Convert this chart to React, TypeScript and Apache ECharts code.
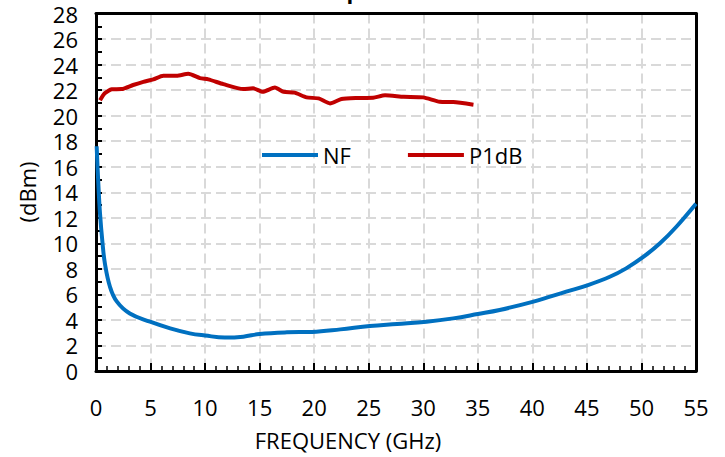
import React, { useEffect, useRef } from "react";
import * as echarts from "echarts";

const nfFreq = [0.06, 0.2, 0.37, 0.6, 0.82, 1.28, 1.9, 3.1, 4.95, 6.8, 8.6, 10, 11.8, 13.5, 15, 17.5, 19.8, 22.4, 25.1, 27.6, 30.3, 32.75, 35, 37, 40.1, 43.1, 45.1, 47.1, 48.6, 50.2, 51.7, 53.2, 55];
const nfValues = [17.6, 14.9, 12.3, 10.0, 8.4, 6.6, 5.45, 4.5, 3.86, 3.34, 2.95, 2.78, 2.62, 2.69, 2.9, 3.03, 3.06, 3.26, 3.52, 3.68, 3.86, 4.12, 4.46, 4.78, 5.43, 6.21, 6.73, 7.38, 8.04, 8.95, 10.0, 11.3, 13.1];

const p1Freq = [0.37, 0.8, 1.44, 2.35, 3.4, 4.34, 5.25, 6.17, 7.4, 8.46, 9.53, 10.3, 11.67, 13.5, 14.4, 15.3, 16.4, 17.2, 18.2, 19.3, 20.4, 21.45, 22.5, 23.9, 25.4, 26.5, 28.2, 30, 31.5, 32.75, 34.6];
const p1Values = [21.2, 21.75, 22.06, 22.08, 22.4, 22.65, 22.84, 23.12, 23.12, 23.28, 22.94, 22.84, 22.47, 22.08, 22.14, 21.87, 22.2, 21.87, 21.8, 21.43, 21.35, 20.96, 21.3, 21.38, 21.4, 21.59, 21.48, 21.43, 21.09, 21.06, 20.86];

const xTicks = { min: 0, max: 55, step: 5 };
const yTicks = { min: 0, max: 28, step: 2 };

const FONT = "'Open Sans', sans-serif";

export default function App() {
  const ref = useRef<HTMLDivElement>(null);
  useEffect(() => {
    if (!ref.current) return;
    const chart = echarts.init(ref.current, null, { renderer: "svg" });
    const gridStyle = { show: true, showMinLine: false, showMaxLine: false, lineStyle: { color: "#d9d9d9", width: 2, type: [10, 5] as any } };
    const frameAxis = {
      axisLine: { show: true, onZero: false, lineStyle: { color: "#000000", width: 3 } },
      axisTick: { show: false },
      axisLabel: { show: false },
      splitLine: { show: false },
    };
    chart.setOption({
      animation: false,
      backgroundColor: "#ffffff",
      title: {
        text: "Output P1dB and NF",
        left: 300,
        top: -26,
        textStyle: { fontFamily: FONT, fontSize: 22, fontWeight: "bold", color: "#000" },
      },
      grid: { left: 96, right: 29, top: 13.5, bottom: 86 },
      legend: {
        left: 262,
        top: 144,
        padding: 0,
        icon: "rect",
        itemWidth: 56,
        itemHeight: 4,
        itemGap: 57,
        textStyle: { fontFamily: FONT, fontSize: 22, color: "#000" },
        data: ["NF", "P1dB"],
      },
      xAxis: [
        {
          type: "value",
          min: xTicks.min,
          max: xTicks.max,
          interval: xTicks.step,
          axisLine: { show: true, lineStyle: { color: "#000", width: 3 } },
          axisTick: { show: true, inside: true, length: 8, lineStyle: { color: "#000", width: 2 } },
          minorTick: { show: true, splitNumber: 5, length: 5, lineStyle: { color: "#000", width: 1.5 } },
          axisLabel: { fontFamily: FONT, fontSize: 22, lineHeight: 24, color: "#000", margin: 24 },
          splitLine: gridStyle,
        },
        { type: "value", position: "top", min: xTicks.min, max: xTicks.max, interval: xTicks.step, ...frameAxis },
      ],
      yAxis: [
        {
          type: "value",
          min: yTicks.min,
          max: yTicks.max,
          interval: yTicks.step,
          axisLine: { show: true, lineStyle: { color: "#000", width: 3 } },
          axisTick: { show: true, inside: true, length: 6, lineStyle: { color: "#000", width: 2 } },
          minorTick: { show: true, splitNumber: 2, length: 6, lineStyle: { color: "#000", width: 2 } },
          axisLabel: { fontFamily: FONT, fontSize: 22, lineHeight: 24, color: "#000", margin: 18 },
          splitLine: gridStyle,
        },
        { type: "value", position: "right", min: yTicks.min, max: yTicks.max, interval: yTicks.step, ...frameAxis },
      ],
      graphic: [
        {
          type: "text",
          x: 348,
          y: 440,
          style: { text: "FREQUENCY (GHz)", fontFamily: FONT, fontSize: 22, fill: "#000", textAlign: "center", textVerticalAlign: "middle" },
        },
        {
          type: "text",
          x: 27,
          y: 192,
          rotation: Math.PI / 2,
          style: { text: "(dBm)", fontFamily: FONT, fontSize: 22, fill: "#000", textAlign: "center", textVerticalAlign: "middle" },
        },
      ],
      series: [
        {
          name: "NF",
          type: "line",
          xAxisIndex: 0,
          yAxisIndex: 0,
          data: nfFreq.map((f, i) => [f, nfValues[i]]),
          smooth: 0.4,
          showSymbol: false,
          lineStyle: { color: "#0070C0", width: 4 },
          itemStyle: { color: "#0070C0" },
        },
        {
          name: "P1dB",
          type: "line",
          xAxisIndex: 0,
          yAxisIndex: 0,
          data: p1Freq.map((f, i) => [f, p1Values[i]]),
          smooth: 0.2,
          showSymbol: false,
          lineStyle: { color: "#C00000", width: 4 },
          itemStyle: { color: "#C00000" },
        },
      ],
    });
    return () => chart.dispose();
  }, []);
  return <div ref={ref} style={{ width: 725, height: 457, position: "absolute", left: 0, top: 0 }} />;
}
